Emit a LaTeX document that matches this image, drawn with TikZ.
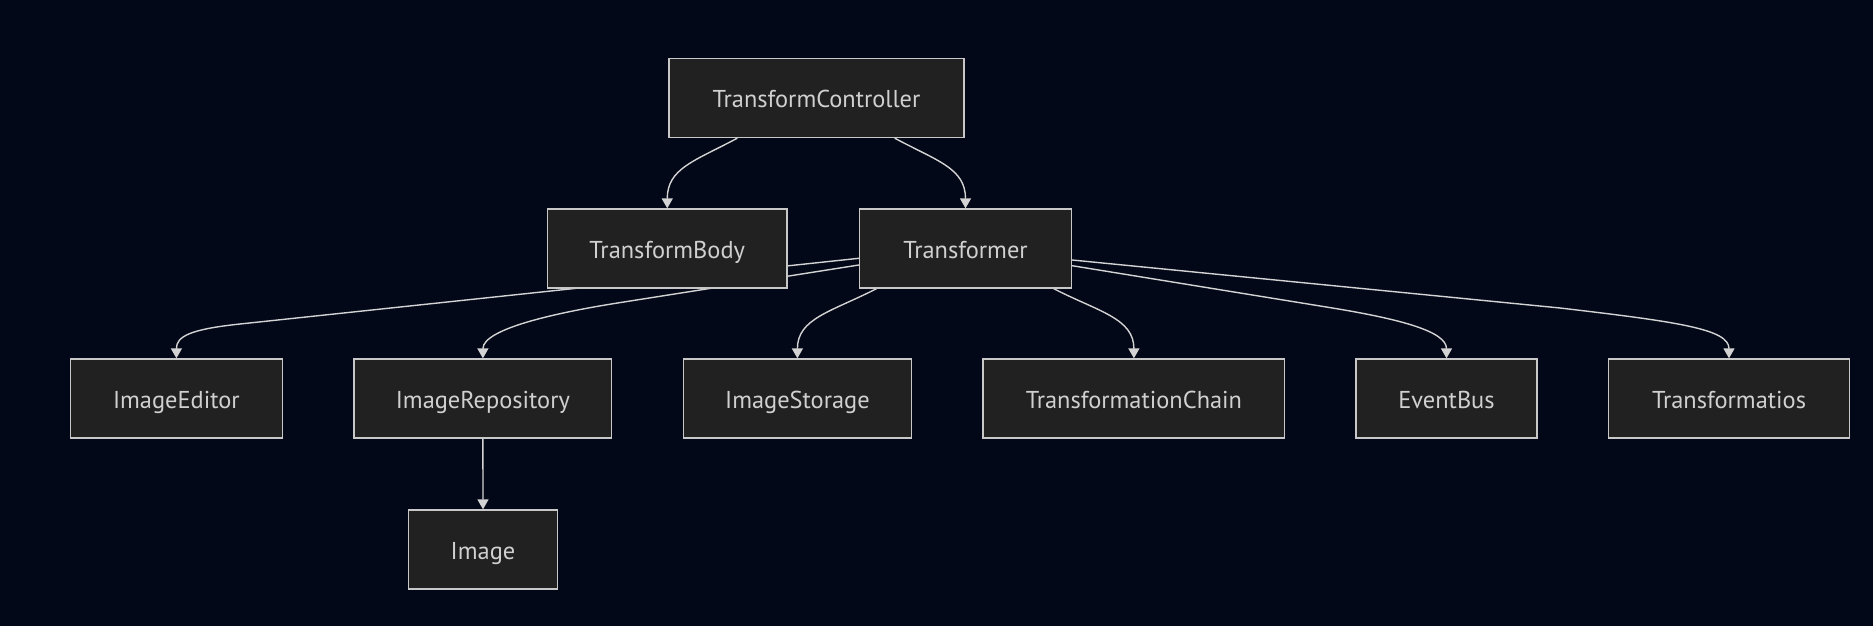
\documentclass[tikz,border=0pt]{standalone}
\usepackage{fontspec}
\setmainfont{PT Sans}
\usetikzlibrary{arrows.meta}
\pgfdeclarelayer{back}
\pgfdeclarelayer{bg}
\pgfsetlayers{back,bg,main}
\definecolor{bgc}{HTML}{020817}
\definecolor{nodefill}{HTML}{212121}
\definecolor{nodeline}{HTML}{C8C8C8}
\definecolor{txt}{HTML}{D0D0D0}
\definecolor{edgec}{HTML}{D3D3D3}
\begin{document}
\begin{tikzpicture}[x=1pt,y=-1pt,
  box/.style={draw=nodeline, fill=nodefill, line width=1.3pt, text=txt,
    minimum height=79pt, inner sep=0pt, text height=21pt, text depth=1.6pt,
    font=\fontsize{24.4}{28}\selectfont},
  link/.style={draw=edgec, line width=1.4pt, -{Triangle[width=11pt,length=10pt]}}]
\begin{pgfonlayer}{back}
\fill[bgc] (0,0) rectangle (1873,626);
\end{pgfonlayer}
\useasboundingbox (0,0) rectangle (1873,626);

\node[box, minimum width=295pt]   (TC)  at (816.5,98)    {TransformController};
\node[box, minimum width=239.5pt] (TB)  at (667.25,248.5) {TransformBody};
\node[box, minimum width=212pt]   (Tr)  at (965.5,248.5) {Transformer};
\node[box, minimum width=211.8pt] (IE)  at (176.4,398.5) {ImageEditor};
\node[box, minimum width=257.8pt] (IR)  at (482.9,398.5) {ImageRepository};
\node[box, minimum width=227.6pt] (IS)  at (797.4,398.5) {ImageStorage};
\node[box, minimum width=301.7pt] (TCh) at (1133.9,398.5) {TransformationChain};
\node[box, minimum width=181pt]   (EB)  at (1446.5,398.5) {EventBus};
\node[box, minimum width=240.5pt] (Tf)  at (1729,398.5)  {Transformatios};
\node[box, minimum width=149.6pt] (Img) at (483,549.5)   {Image};

\begin{pgfonlayer}{bg}
\draw[link] ([xshift=69pt]TC.south west) .. controls +(-43,23) and +(0,-40) .. (TB.north);
\draw[link] ([xshift=-70pt]TC.south east) .. controls +(43,23) and +(0,-40) .. (Tr.north);
\draw[link] ([xshift=17.7pt]Tr.south west) .. controls +(-45,23) and +(0,-40) .. (IS.north);
\draw[link] ([xshift=-18.5pt]Tr.south east) .. controls +(45,23) and +(0,-40) .. (TCh.north);
\draw[link] ([yshift=-9.8pt]Tr.west) -- (240,324) .. controls (190,329.3) and +(0,-22) .. (IE.north);
\draw[link] ([yshift=-16.5pt]Tr.west) -- (620,302.6) .. controls (560,312) and +(0,-30) .. (IR.north);
\draw[link] ([yshift=-17.2pt]Tr.east) -- (1330,307.6) .. controls (1400,319) and +(0,-27) .. (EB.north);
\draw[link] ([yshift=-11.5pt]Tr.east) -- (1560,308) .. controls (1680,322) and +(0,-29) .. (Tf.north);
\draw[link] (IR.south) -- (Img.north);
\end{pgfonlayer}
\end{tikzpicture}
\end{document}
